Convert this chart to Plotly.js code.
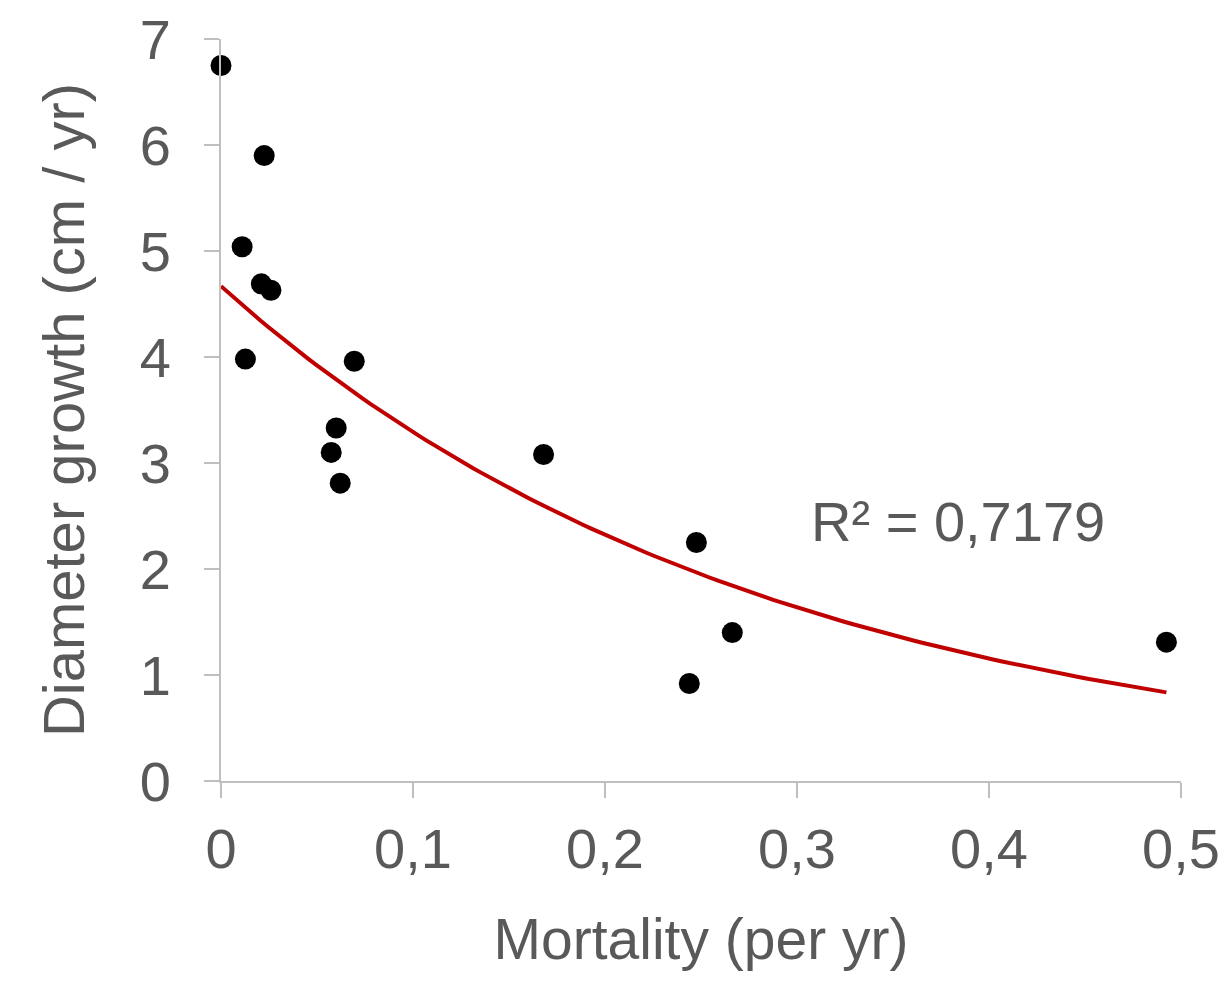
<!DOCTYPE html>
<html>
<head>
<meta charset="utf-8">
<script src="https://cdn.plot.ly/plotly-3.0.1.min.js"></script>
<style>
  html, body { margin: 0; padding: 0; background: #ffffff; }
  #chart { width: 1223px; height: 992px; }
</style>
</head>
<body>
<div id="chart"></div>
<script>
const mortality = [0.0, 0.0225, 0.011, 0.021, 0.026, 0.0127, 0.0694, 0.060, 0.0574, 0.0621, 0.168, 0.2476, 0.2663, 0.2439, 0.4924];
const diameterGrowth = [6.75, 5.90, 5.04, 4.69, 4.63, 3.98, 3.96, 3.33, 3.10, 2.81, 3.08, 2.25, 1.40, 0.92, 1.31];

const xTickVals = [0, 0.1, 0.2, 0.3, 0.4, 0.5];
const yTickVals = [0, 1, 2, 3, 4, 5, 6, 7];
const r2Label = "R² = 0,7179";
const xTitle = "Mortality (per yr)";
const yTitle = "Diameter growth (cm / yr)";

// Exponential trendline (least squares on ln y, as a spreadsheet trendline does)
function expFit(xs, ys) {
  const n = xs.length;
  const ly = ys.map(v => Math.log(v));
  const mx = xs.reduce((a, b) => a + b, 0) / n;
  const my = ly.reduce((a, b) => a + b, 0) / n;
  let sxx = 0, sxy = 0;
  for (let i = 0; i < n; i++) {
    sxx += (xs[i] - mx) * (xs[i] - mx);
    sxy += (xs[i] - mx) * (ly[i] - my);
  }
  const b = sxy / sxx;
  const a = Math.exp(my - b * mx);
  return { a, b };
}
const fit = expFit(mortality, diameterGrowth);
const xMin = Math.min(...mortality), xMax = Math.max(...mortality);
const trendX = [], trendY = [];
const steps = 120;
for (let i = 0; i <= steps; i++) {
  const x = xMin + (xMax - xMin) * i / steps;
  trendX.push(x);
  trendY.push(fit.a * Math.exp(fit.b * x));
}

const gray = "#595959";
const axisGray = "#BFBFBF";
const fontFamily = "Liberation Sans, Arial, sans-serif";

const traces = [
  {
    x: mortality, y: diameterGrowth,
    type: "scatter", mode: "markers",
    marker: { color: "#000000", size: 21 },
    cliponaxis: false,
    hoverinfo: "x+y", showlegend: false
  },
  {
    x: trendX, y: trendY,
    type: "scatter", mode: "lines",
    line: { color: "#C00000", width: 4 },
    hoverinfo: "skip", showlegend: false
  }
];

const layout = {
  width: 1223, height: 992,
  margin: { l: 221, r: 42, t: 39, b: 211, pad: 0 },
  paper_bgcolor: "#ffffff", plot_bgcolor: "#ffffff",
  separators: ",.",
  showlegend: false,
  font: { family: fontFamily, color: gray },
  xaxis: {
    range: [0, 0.5],
    tickvals: xTickVals,
    showgrid: false, zeroline: false,
    showline: true, linecolor: axisGray, linewidth: 2,
    ticks: "outside", ticklen: 15, tickwidth: 2, tickcolor: axisGray,
    ticklabelstandoff: 3,
    tickfont: { size: 56, color: gray, family: fontFamily },
    title: { text: xTitle, font: { size: 57, color: gray, family: fontFamily }, standoff: 40 },
    automargin: false
  },
  yaxis: {
    range: [0, 7],
    tickvals: yTickVals,
    showgrid: false, zeroline: false,
    showline: true, linecolor: axisGray, linewidth: 2,
    ticks: "outside", ticklen: 15, tickwidth: 2, tickcolor: axisGray,
    ticklabelstandoff: 22,
    tickfont: { size: 56, color: gray, family: fontFamily },
    title: { text: yTitle, font: { size: 58, color: gray, family: fontFamily }, standoff: 36 },
    automargin: false
  },
  annotations: [
    {
      x: 0.384, y: 2.45, xref: "x", yref: "y",
      text: r2Label, showarrow: false,
      xanchor: "center", yanchor: "middle",
      font: { size: 56, color: gray, family: fontFamily }
    }
  ]
};

Plotly.newPlot("chart", traces, layout, { staticPlot: true, displayModeBar: false });
</script>
</body>
</html>
